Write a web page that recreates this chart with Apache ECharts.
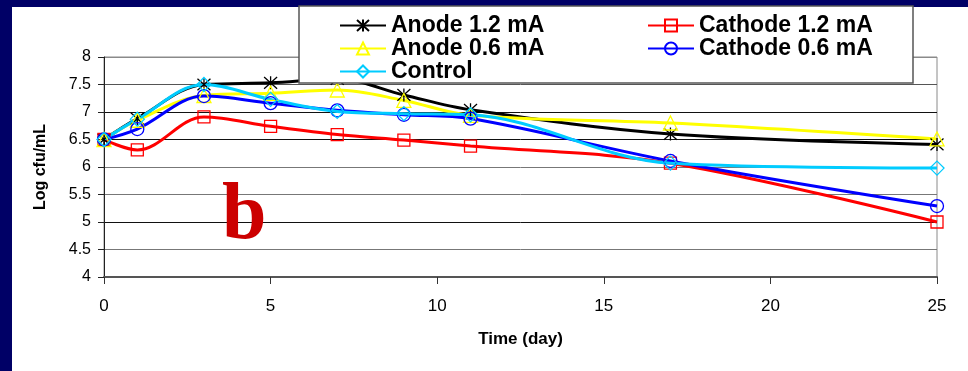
<!DOCTYPE html>
<html>
<head>
<meta charset="utf-8">
<script src="https://cdn.jsdelivr.net/npm/echarts@6/dist/echarts.min.js"></script>
<style>
html,body{margin:0;padding:0;background:#000066;}
#chart{width:968px;height:371px;}
</style>
</head>
<body>
<div id="chart"></div>
<script>
// ---- data ----
var days = [0, 1, 3, 5, 7, 9, 11, 17, 25];
var seriesNames = ['Anode 1.2 mA', 'Cathode 1.2 mA', 'Anode 0.6 mA', 'Cathode 0.6 mA', 'Control'];
var anode12   = [6.5, 6.88, 7.5, 7.53, 7.6, 7.31, 7.04, 6.6, 6.41];
var cathode12 = [6.5, 6.31, 6.91, 6.74, 6.59, 6.49, 6.38, 6.07, 5.0];
var anode06   = [6.5, 6.85, 7.3, 7.34, 7.4, 7.21, 6.94, 6.8, 6.51];
var cathode06 = [6.5, 6.69, 7.29, 7.16, 7.03, 6.95, 6.88, 6.11, 5.29];
var control   = [6.5, 6.87, 7.5, 7.23, 7.01, 6.97, 6.95, 6.07, 5.98];
var xTicks = [0, 5, 10, 15, 20, 25];
var yTicks = [4, 4.5, 5, 5.5, 6, 6.5, 7, 7.5, 8];

function pairs(vals) { return days.map(function (d, i) { return [d, vals[i]]; }); }

var asterisk = 'path://M5,0L5,10M0.5,0.5L9.5,9.5M0.5,9.5L9.5,0.5';
var defs = [
  { name: seriesNames[0], data: anode12,   color: '#000000', symbol: asterisk, size: 13 },
  { name: seriesNames[1], data: cathode12, color: '#ff0000', symbol: 'rect', size: 12 },
  { name: seriesNames[2], data: anode06,   color: '#ffff00', symbol: 'triangle', size: 14 },
  { name: seriesNames[3], data: cathode06, color: '#0000ff', symbol: 'circle', size: 13 },
  { name: seriesNames[4], data: control,   color: '#00ccff', symbol: 'diamond', size: 14 }
];

var series = defs.map(function (d) {
  return {
    name: d.name,
    type: 'line',
    data: pairs(d.data),
    smooth: 0.35,
    symbol: d.symbol,
    symbolSize: d.size,
    lineStyle: { color: d.color, width: 3 },
    itemStyle: { color: 'rgba(0,0,0,0)', borderColor: d.color, borderWidth: 1.3 },
    emphasis: { disabled: true },
    z: 3
  };
});

var chart = echarts.init(document.getElementById('chart'), null, { renderer: 'canvas' });
var legendText = { fontFamily: 'Liberation Sans', fontWeight: 'bold', fontSize: 23, color: '#000', lineHeight: 22 };

chart.setOption({
  backgroundColor: '#000066',
  animation: false,
  grid: { left: 104, right: 31, top: 57, bottom: 94, show: true, borderColor: '#8a8a8a', borderWidth: 1, backgroundColor: 'transparent' },
  xAxis: {
    type: 'value', min: 0, max: 25, interval: 5,
    name: 'Time (day)', nameLocation: 'middle', nameGap: 54,
    nameTextStyle: { fontFamily: 'Liberation Sans', fontWeight: 'bold', fontSize: 17, color: '#000' },
    axisLine: { show: true, onZero: false, lineStyle: { color: '#555', width: 2 } },
    axisTick: { show: true, length: 7, inside: false, lineStyle: { color: '#333' } },
    axisLabel: { fontFamily: 'Liberation Sans', fontSize: 17, color: '#000', margin: 21,
      formatter: function (v) { return xTicks.indexOf(v) >= 0 ? String(v) : ''; } },
    splitLine: { show: false }
  },
  yAxis: {
    type: 'value', min: 4, max: 8, interval: 0.5,
    name: 'Log cfu/mL', nameLocation: 'middle', nameGap: 55,
    nameTextStyle: { fontFamily: 'Liberation Sans', fontWeight: 'bold', fontSize: 16, color: '#000' },
    axisLine: { show: true, onZero: false, lineStyle: { color: '#222', width: 1 } },
    axisTick: { show: true, length: 6, lineStyle: { color: '#222' } },
    axisLabel: { fontFamily: 'Liberation Sans', fontSize: 16, color: '#000', margin: 13,
      formatter: function (v) { return yTicks.indexOf(v) >= 0 ? String(v) : ''; } },
    splitLine: { show: true, lineStyle: { width: 1,
      color: ['#555', '#777', '#111', '#777', '#777', '#111', '#111', '#555', '#8a8a8a'] } }
  },
  legend: [
    { data: [seriesNames[0], seriesNames[2], seriesNames[4]], orient: 'vertical', left: 339, top: 14,
      itemWidth: 46, itemHeight: 15, itemGap: 0, textStyle: legendText, z: 20, selectedMode: false, padding: 0 },
    { data: [seriesNames[1], seriesNames[3]], orient: 'vertical', left: 647, top: 14,
      itemWidth: 46, itemHeight: 15, itemGap: 0, textStyle: legendText, z: 20, selectedMode: false, padding: 0 }
  ],
  graphic: [
    { type: 'rect', z: -10, shape: { x: 12, y: 7, width: 956, height: 364 }, style: { fill: '#ffffff' }, silent: true },
    { type: 'rect', z: 15, shape: { x: 299, y: 6, width: 614, height: 77 }, style: { fill: '#ffffff', stroke: '#555', lineWidth: 1.5 }, silent: true },
    { type: 'text', z: 5, style: { text: 'b', x: 222, y: 217, font: 'bold 80px "Liberation Serif"', fill: '#cc0000', verticalAlign: 'middle', align: 'left' }, silent: true }
  ],
  series: series
});
</script>
</body>
</html>
